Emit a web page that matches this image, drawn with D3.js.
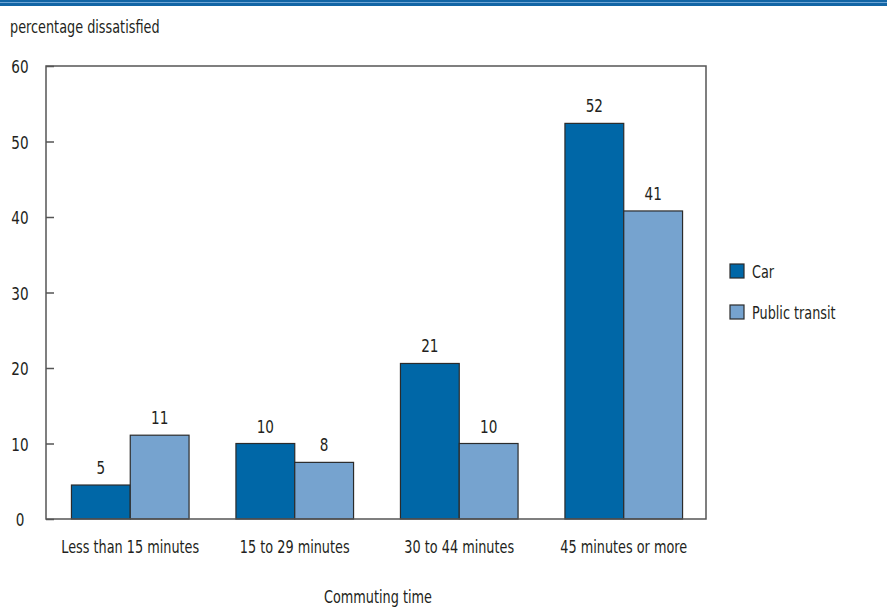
<!DOCTYPE html>
<html>
<head>
<meta charset="utf-8">
<script src="https://cdn.jsdelivr.net/npm/d3@7"></script>
<style>
  html, body { margin: 0; padding: 0; background: #fff; }
  svg { display: block; }
  text { font-family: "DejaVu Sans Condensed", "Liberation Sans Narrow", sans-serif; fill: #231f20; }
</style>
</head>
<body>
<svg id="chart" width="887" height="607"></svg>
<script>
// Commuting time groups and the share of commuters dissatisfied
const categories = ["Less than 15 minutes", "15 to 29 minutes", "30 to 44 minutes", "45 minutes or more"];
const seriesNames = ["Car", "Public transit"];
const carValues = [4.5, 10.0, 20.6, 52.4];
const transitValues = [11.1, 7.5, 10.0, 40.8];
const yTicks = [0, 10, 20, 30, 40, 50, 60];
const colors = ["#0067a7", "#76a3cf"];

const rows = categories.map((c, i) => ({ category: c, values: [carValues[i], transitValues[i]] }));

const svg = d3.select("#chart");
const W = 887, H = 607;
const plot = { left: 46, right: 706, top: 66, bottom: 519 };
const SX = 0.84; // horizontal squeeze for a condensed look

// turn x/y placement into a transform so the glyphs can be narrowed
function narrow(sel) {
  sel.each(function () {
    const t = d3.select(this);
    const x = +t.attr("x") || 0, y = +t.attr("y") || 0;
    t.attr("x", 0).attr("y", 0).attr("transform", `translate(${x},${y}) scale(${SX},1)`);
  });
}

// top banner
svg.append("rect").attr("x", 0).attr("y", 0).attr("width", W).attr("height", 6).attr("fill", "#1366a6");
svg.append("rect").attr("x", 0).attr("y", 2).attr("width", W).attr("height", 1).attr("fill", "#6fa6d6");

const x0 = d3.scaleBand().domain(categories).range([48, plot.right]).paddingInner(0.285).paddingOuter(0.1425);
const x1 = d3.scaleBand().domain(seriesNames).range([0, x0.bandwidth()]);
const y = d3.scaleLinear().domain([0, 60]).range([plot.bottom, plot.top]);

// bars
const groups = svg.append("g").selectAll("g").data(rows).join("g")
  .attr("transform", d => `translate(${x0(d.category)},0)`);

groups.selectAll("rect").data(d => d.values.map((v, i) => ({ v, s: seriesNames[i], i })))
  .join("rect")
  .attr("x", d => x1(d.s))
  .attr("y", d => y(d.v))
  .attr("width", x1.bandwidth())
  .attr("height", d => y(0) - y(d.v))
  .attr("fill", d => colors[d.i])
  .attr("stroke", "#2b2b2b")
  .attr("stroke-width", 1.2);

groups.selectAll("text").data(d => d.values.map((v, i) => ({ v, s: seriesNames[i] })))
  .join("text")
  .attr("x", d => x1(d.s) + x1.bandwidth() / 2)
  .attr("y", d => y(d.v) - 11)
  .attr("text-anchor", "middle")
  .attr("font-size", 18)
  .text(d => d3.format(".0f")(d.v))
  .call(narrow);

// frame
svg.append("rect")
  .attr("x", plot.left).attr("y", plot.top)
  .attr("width", plot.right - plot.left).attr("height", plot.bottom - plot.top)
  .attr("fill", "none").attr("stroke", "#555").attr("stroke-width", 1.5);

// y axis with inward ticks
const yAxis = d3.axisLeft(y).tickValues(yTicks).tickSize(-8).tickFormat(d3.format("d"));
const ya = svg.append("g").attr("transform", `translate(${plot.left},0)`).call(yAxis);
ya.select(".domain").remove();
ya.selectAll(".tick line").attr("stroke", "#555").attr("stroke-width", 1.5);
ya.selectAll(".tick text").attr("font-size", 18).attr("fill", "#231f20").attr("font-family", null)
  .attr("text-anchor", "middle").attr("x", -26).attr("y", 6.5).attr("dy", null)
  .call(narrow);

// x axis category labels
const xAxis = d3.axisBottom(x0).tickSize(0).tickPadding(0);
const xa = svg.append("g").attr("transform", `translate(0,${plot.bottom})`).call(xAxis);
xa.select(".domain").remove();
xa.selectAll(".tick text").attr("font-size", 17).attr("fill", "#231f20").attr("font-family", null)
  .attr("y", 34).attr("dy", null)
  .call(narrow);

// axis titles
svg.append("text").attr("x", 10).attr("y", 33).attr("font-size", 17).text("percentage dissatisfied").call(narrow);
svg.append("text").attr("x", (plot.left + plot.right) / 2 + 2).attr("y", 603)
  .attr("text-anchor", "middle").attr("font-size", 17).text("Commuting time").call(narrow);

// legend
const legend = svg.append("g").selectAll("g").data(seriesNames).join("g")
  .attr("transform", (d, i) => `translate(730,${264 + i * 41})`);
legend.append("rect").attr("width", 14).attr("height", 14)
  .attr("fill", (d, i) => colors[i]).attr("stroke", "#2b2b2b").attr("stroke-width", 1.2);
legend.append("text").attr("x", 22).attr("y", 13.5).attr("font-size", 17).text(d => d).call(narrow);
</script>
</body>
</html>
